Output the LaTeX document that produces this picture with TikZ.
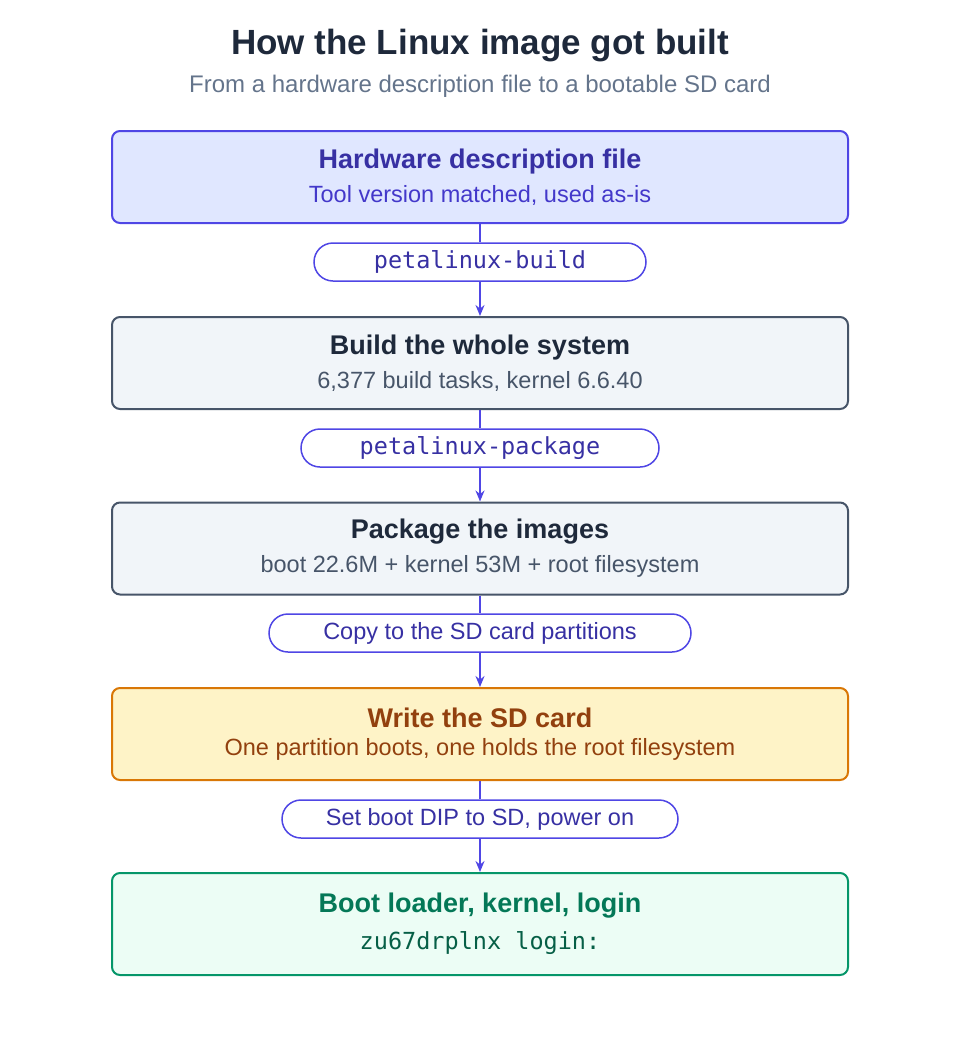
\documentclass[tikz,border=0pt]{standalone}
\usepackage{fontspec}
\setmainfont{Liberation Sans}
\setmonofont{DejaVu Sans Mono}
\usetikzlibrary{arrows.meta,shapes.misc}
\definecolor{ind}{HTML}{4F46E5}
\definecolor{indd}{HTML}{3730A3}
\definecolor{indm}{HTML}{4338CA}
\definecolor{sl}{HTML}{475569}
\definecolor{sld}{HTML}{1E293B}
\definecolor{am}{HTML}{D97706}
\definecolor{amd}{HTML}{92400E}
\definecolor{gr}{HTML}{059669}
\definecolor{grd}{HTML}{047857}
\definecolor{grdd}{HTML}{065F46}
\definecolor{f1}{HTML}{E0E7FF}
\definecolor{f2}{HTML}{F1F5F9}
\definecolor{f4}{HTML}{FEF3C7}
\definecolor{f5}{HTML}{ECFDF5}
\definecolor{subg}{HTML}{64748B}
\newcommand{\tsz}{\fontsize{27}{30}\selectfont\bfseries}
\newcommand{\ssz}{\fontsize{23.5}{26}\selectfont}
\begin{document}
\begin{tikzpicture}[x=1pt,y=-1pt,
  box/.style={draw,line width=2pt,rounded corners=8pt,minimum width=736pt,minimum height=92pt,align=center,inner sep=0pt},
  pill/.style={draw=ind,fill=white,line width=1.5pt,rounded rectangle,minimum height=38pt,inner sep=0pt,text=indd},
  conn/.style={ind,line width=2pt},
  arr/.style={conn,-{Stealth[length=11pt,width=9pt]}}]
\useasboundingbox (0,0) rectangle (960,1063);
\node[font=\fontsize{35}{40}\selectfont\bfseries,text=sld] (t) at (480,46) {How the Linux image got built};
\node[font=\fontsize{24}{28}\selectfont,text=subg] (st) at (480,86) {From a hardware description file to a bootable SD card};
\node[box,draw=ind,fill=f1] (b1) at (480,177) {{\tsz\color{indd}Hardware description file}\\[10pt]{\ssz\color{indm}Tool version matched, used as-is}};
\node[box,draw=sl,fill=f2] (b2) at (480,363) {{\tsz\color{sld}Build the whole system}\\[10pt]{\ssz\color{sl}6,377 build tasks, kernel 6.6.40}};
\node[box,draw=sl,fill=f2] (b3) at (480,548.5) {{\tsz\color{sld}Package the images}\\[10pt]{\ssz\color{sl}boot 22.6M + kernel 53M + root filesystem}};
\node[box,draw=am,fill=f4] (b4) at (480,734) {{\tsz\color{amd}Write the SD card}\\[10pt]{\ssz\color{amd}One partition boots, one holds the root filesystem}};
\node[box,draw=gr,fill=f5,minimum height=102pt] (b5) at (480,924) {{\tsz\color{grd}Boot loader, kernel, login}\\[12pt]{\ssz\ttfamily\color{grdd}zu67drplnx login:}};
\node[pill,minimum width=332pt,font=\ssz\ttfamily] (p1) at (480,262) {petalinux-build};
\node[pill,minimum width=358pt,font=\ssz\ttfamily] (p2) at (480,448) {petalinux-package};
\node[pill,minimum width=422pt,font=\ssz] (p3) at (480,633) {Copy to the SD card partitions};
\node[pill,minimum width=396pt,font=\ssz] (p4) at (480,819) {Set boot DIP to SD, power on};
\draw[conn] (b1.south) -- (p1.north);
\draw[arr] (p1.south) -- (b2.north);
\draw[conn] (b2.south) -- (p2.north);
\draw[arr] (p2.south) -- (b3.north);
\draw[conn] (b3.south) -- (p3.north);
\draw[arr] (p3.south) -- (b4.north);
\draw[conn] (b4.south) -- (p4.north);
\draw[arr] (p4.south) -- (b5.north);
\end{tikzpicture}
\end{document}
